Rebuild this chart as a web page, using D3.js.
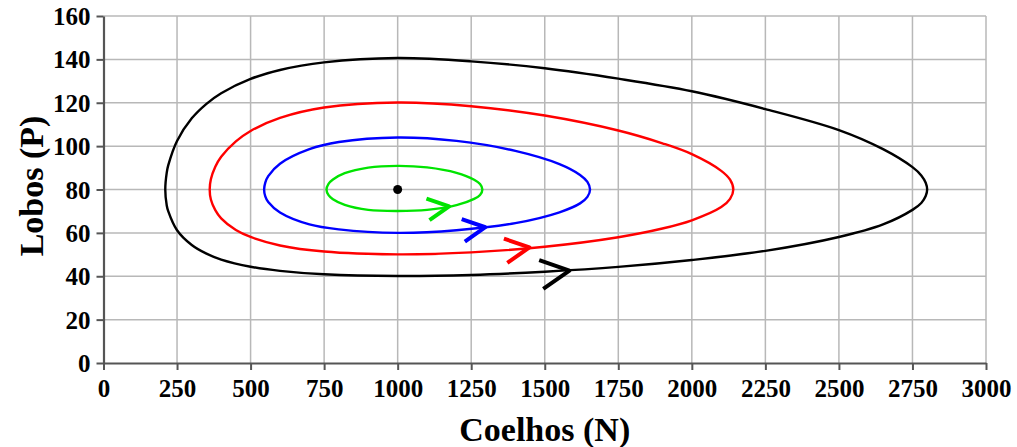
<!DOCTYPE html>
<html>
<head>
<meta charset="utf-8">
<script src="https://cdn.jsdelivr.net/npm/d3@7"></script>
<style>
  html, body { margin: 0; padding: 0; background: #fff; }
  svg { display: block; }
</style>
</head>
<body>
<svg id="chart" width="1017" height="447"></svg>
<script>
// orbits: rabbits N, wolves P (closed loops, bottom left->right, then top right->left)
const greenN = [758, 765, 780, 820, 900, 1000, 1100, 1200, 1260, 1280, 1288, 1280, 1260, 1200, 1100, 1000, 900, 820, 780, 765]
const greenP = [80, 77.4, 75.5, 72.9, 70.6, 70.1, 70.6, 72.8, 75.7, 77.5, 80, 82.5, 84.5, 87.7, 90.2, 90.9, 90.1, 87.5, 84.6, 82.6]

const blueN = [546, 550, 560, 600, 700, 800, 1000, 1200, 1400, 1550, 1620, 1645, 1654, 1645, 1620, 1550, 1400, 1200, 1000, 800, 700, 600, 560, 550]
const blueP = [80, 76.8, 74.2, 69.4, 63.9, 61.6, 60.0, 61.2, 64.5, 69.5, 73.6, 76.6, 80, 83.5, 86.7, 91.7, 97.8, 102.4, 104.0, 101.9, 98.6, 91.9, 86.2, 83.2]

const redN = [361, 365, 380, 400, 450, 500, 600, 750, 1000, 1250, 1500, 1750, 1900, 2000, 2100, 2130, 2141,
              2130, 2100, 2000, 1900, 1750, 1500, 1250, 1000, 750, 600, 500, 450, 400, 380, 365]
const redP = [80, 75.4, 70.5, 66.7, 61.3, 58.1, 54.2, 51.4, 50.1, 51.0, 53.6, 58.0, 62.0, 65.8, 71.9, 75.7, 80,
              84.5, 88.6, 96.3, 101.3, 107.2, 114.1, 118.4, 120.1, 117.8, 113.0, 107.0, 102.2, 95.1, 90.5, 84.7]

const blackN = [210, 215, 220, 250, 300, 350, 400, 500, 600, 750, 1000, 1250, 1500, 1750, 2000, 2250, 2500, 2650, 2750, 2780, 2795, 2800,
                2795, 2780, 2750, 2650, 2500, 2250, 2000, 1750, 1500, 1250, 1000, 750, 600, 500, 400, 350, 300, 250, 220, 215]
const blackP = [80, 72.6, 70.0, 61.2, 54.4, 50.4, 47.7, 44.4, 42.5, 40.9, 40.1, 40.6, 42.1, 44.3, 47.5, 51.7, 58.1, 63.9, 70.6, 73.8, 77.0, 80,
                83.1, 86.5, 90.3, 98.6, 107.4, 117.1, 125.3, 131.1, 135.9, 139.1, 140.6, 138.6, 135.1, 131.0, 124.4, 119.5, 112.8, 102.4, 91.1, 87.8]

// arrow tips (on the lower branch of each orbit)
const arrowN = [1175, 1298, 1448, 1584]
const arrowP = [72.2, 62.6, 53.3, 42.6]

const equilibriumN = 1000, equilibriumP = 80

const xTicks = d3.range(0, 3001, 250)
const yTicks = d3.range(0, 161, 20)

const series = [
  {N: greenN, P: greenP, color: "#00e400", arm: 24},
  {N: blueN, P: blueP, color: "#0000ff", arm: 25},
  {N: redN, P: redP, color: "#ff0000", arm: 27},
  {N: blackN, P: blackP, color: "#000000", arm: 32}
]

const svg = d3.select("#chart")
const plotLeft = 103.5, plotRight = 986, plotTop = 16, plotBottom = 363

const x = d3.scaleLinear().domain([0, 3000]).range([plotLeft, plotRight])
const y = d3.scaleLinear().domain([0, 160]).range([plotBottom, plotTop])

const font = "'Liberation Serif', 'Times New Roman', serif"

// grid
svg.append("g")
  .selectAll("line").data(xTicks.slice(1)).join("line")
  .attr("x1", d => x(d)).attr("x2", d => x(d))
  .attr("y1", plotTop).attr("y2", plotBottom)
  .attr("stroke", "#b8b8b8").attr("stroke-width", 1.5)
svg.append("g")
  .selectAll("line").data(yTicks.slice(1)).join("line")
  .attr("x1", plotLeft).attr("x2", plotRight)
  .attr("y1", d => y(d)).attr("y2", d => y(d))
  .attr("stroke", "#b8b8b8").attr("stroke-width", 1.5)

// axes
const xAxis = svg.append("g")
  .attr("transform", `translate(0,${plotBottom})`)
  .call(d3.axisBottom(x).tickValues(xTicks).tickFormat(d3.format("d")).tickSize(7).tickPadding(8).tickSizeOuter(0))
const yAxis = svg.append("g")
  .attr("transform", `translate(${plotLeft},0)`)
  .call(d3.axisLeft(y).tickValues(yTicks).tickFormat(d3.format("d")).tickSize(7).tickPadding(6).tickSizeOuter(0))

;[xAxis, yAxis].forEach(a => {
  a.select(".domain").attr("stroke", "#555").attr("stroke-width", 2.2)
  a.selectAll(".tick line").attr("stroke", "#555").attr("stroke-width", 2)
  a.selectAll(".tick text")
    .attr("fill", "#000")
    .style("font-family", font)
    .style("font-weight", "bold")
    .style("font-size", "25px")
})
xAxis.selectAll(".tick text").attr("dy", "0.75em")
yAxis.selectAll(".tick text").attr("dy", "0.34em")

// orbits
const line = d3.line()
  .x(d => x(d[0]))
  .y(d => y(d[1]))
  .curve(d3.curveCatmullRomClosed.alpha(0.5))

series.forEach(s => {
  svg.append("path")
    .attr("d", line(d3.zip(s.N, s.P)))
    .attr("fill", "none")
    .attr("stroke", s.color)
    .attr("stroke-width", 2.4)
})

// direction arrows (chevrons)
const half = 27 * Math.PI / 180
series.forEach((s, i) => {
  const L = s.arm
  const dx = -L * Math.cos(half), dy = L * Math.sin(half)
  svg.append("path")
    .attr("transform", `translate(${x(arrowN[i])},${y(arrowP[i])}) rotate(-8)`)
    .attr("d", `M${dx},${-dy}L0,0L${dx},${dy}`)
    .attr("fill", "none")
    .attr("stroke", s.color)
    .attr("stroke-width", 4)
    .attr("stroke-linejoin", "round")
})

// equilibrium point
svg.append("circle")
  .attr("cx", x(equilibriumN)).attr("cy", y(equilibriumP))
  .attr("r", 4.5).attr("fill", "#000")

// axis titles
svg.append("text")
  .attr("x", (plotLeft + plotRight) / 2).attr("y", 441)
  .attr("text-anchor", "middle")
  .style("font-family", font).style("font-weight", "bold").style("font-size", "34px")
  .text("Coelhos (N)")

svg.append("text")
  .attr("transform", `translate(43,186) rotate(-90)`)
  .attr("text-anchor", "middle")
  .style("font-family", font).style("font-weight", "bold").style("font-size", "34px")
  .text("Lobos (P)")
</script>
</body>
</html>
